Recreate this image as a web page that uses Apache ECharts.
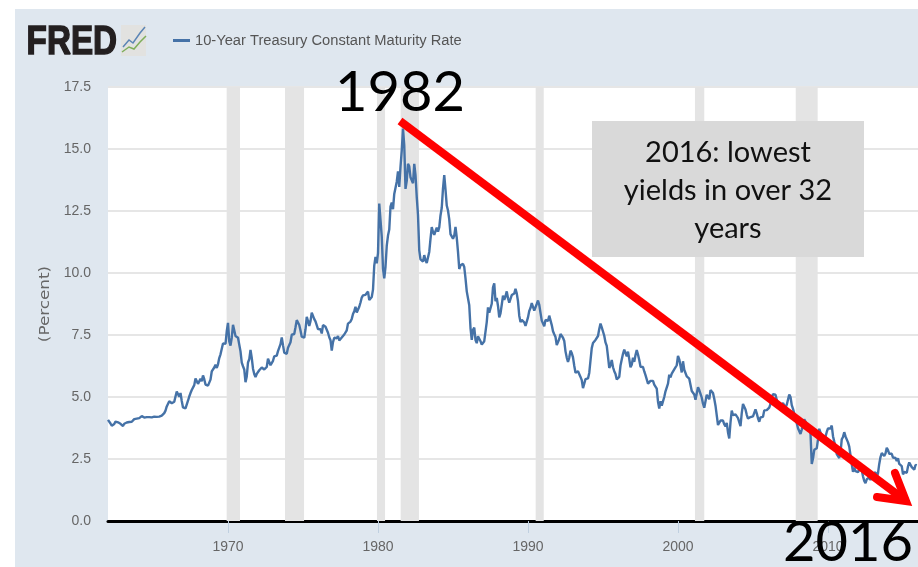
<!DOCTYPE html>
<html>
<head>
<meta charset="utf-8"/>
<title>10-Year Treasury Constant Maturity Rate</title>
<script src="https://cdn.jsdelivr.net/npm/echarts@6/dist/echarts.min.js"></script>
<style>
	body { margin: 0; background: #fff; }
	#panel { position: absolute; left: 15px; top: 9px; width: 903px; height: 558px; background: #dfe7ef; }
	#chart { position: absolute; left: 0; top: 0; width: 918px; height: 567px; }
</style>
</head>
<body>
<div id="panel"></div>
<div id="chart"></div>
<script>
	// monthly values, percent, January of the first year onward
	var startYear = 1962;
	var rate60s = [
		4.08,4.04,3.93,3.84,3.87,3.91,4.01,3.98,3.98,3.93,3.92,3.86,
		3.83,3.92,3.93,3.97,3.93,3.99,4.02,4.00,4.08,4.11,4.12,4.13,
		4.17,4.15,4.22,4.23,4.20,4.17,4.19,4.19,4.20,4.19,4.15,4.18,
		4.19,4.21,4.21,4.20,4.21,4.21,4.20,4.25,4.29,4.35,4.45,4.62,
		4.61,4.83,4.87,4.75,4.78,4.81,5.02,5.22,5.18,5.01,5.16,4.84,
		4.58,4.63,4.54,4.59,4.85,5.02,5.16,5.28,5.30,5.48,5.75,5.70,
		5.53,5.56,5.74,5.64,5.87,5.72,5.50,5.42,5.46,5.58,5.70,6.03,
		6.04,6.19,6.30,6.17,6.32,6.57,6.72,6.69,7.16,7.10,7.14,7.65
	];
	var rate70s = [
		7.99,7.24,7.07,7.39,7.91,7.84,7.46,7.53,7.39,7.33,6.84,6.39,
		6.24,6.11,5.60,5.83,6.39,6.52,6.90,6.58,6.14,5.93,5.81,5.93,
		5.95,6.08,6.07,6.19,6.13,6.11,6.11,6.21,6.55,6.48,6.28,6.36,
		6.46,6.64,6.71,6.67,6.85,6.90,7.13,7.40,7.09,6.79,6.73,6.74,
		6.99,6.96,7.21,7.51,7.58,7.54,7.81,8.10,8.04,7.90,7.68,7.43,
		7.50,7.39,7.73,8.23,8.06,7.86,8.06,8.40,8.43,8.14,8.05,8.00,
		7.74,7.79,7.73,7.56,7.90,7.86,7.83,7.77,7.59,7.41,7.29,6.87,
		7.21,7.39,7.46,7.37,7.46,7.28,7.33,7.40,7.34,7.52,7.58,7.69,
		7.96,8.03,8.04,8.15,8.35,8.46,8.64,8.41,8.42,8.64,8.81,9.01,
		9.10,9.10,9.12,9.18,9.25,8.91,8.95,9.03,9.33,10.30,10.65,10.39
	];
	var rate80s = [
		10.80,12.80,12.75,11.47,10.18,9.78,10.25,11.10,11.51,11.75,12.68,12.84,
		12.57,13.19,13.12,13.68,14.10,13.47,14.28,14.94,15.82,15.15,13.39,13.72,
		14.40,14.30,13.86,13.87,13.62,14.40,13.95,13.06,12.34,10.91,10.55,10.54,
		10.46,10.72,10.51,10.40,10.38,10.85,11.38,11.85,11.65,11.54,11.69,11.83,
		11.67,11.84,12.32,12.63,13.41,13.95,13.36,12.72,12.52,12.16,11.57,11.50,
		11.38,11.51,11.86,11.43,10.85,10.16,10.31,10.33,10.37,10.24,9.78,9.26,
		9.19,8.70,7.78,7.30,7.71,7.80,7.30,7.17,7.45,7.43,7.25,7.11,
		7.08,7.25,7.25,8.02,8.61,8.40,8.45,8.76,9.42,9.58,8.86,8.99,
		8.67,8.21,8.37,8.72,9.09,8.92,9.06,9.26,8.98,8.80,8.96,9.11,
		9.09,9.17,9.36,9.18,8.86,8.28,8.02,8.11,8.19,8.01,7.87,7.84
	];
	var rate90s = [
		8.21,8.47,8.59,8.79,8.76,8.48,8.47,8.75,8.89,8.72,8.39,8.08,
		8.09,7.85,8.11,8.04,8.07,8.28,8.27,7.90,7.65,7.53,7.42,7.09,
		7.03,7.34,7.54,7.48,7.39,7.26,6.84,6.59,6.42,6.59,6.87,6.77,
		6.60,6.26,5.98,5.97,6.04,5.96,5.81,5.68,5.36,5.33,5.72,5.77,
		5.75,5.97,6.48,6.97,7.18,7.10,7.30,7.24,7.46,7.74,7.96,7.81,
		7.78,7.47,7.20,7.06,6.63,6.17,6.28,6.49,6.20,6.04,5.93,5.71,
		5.65,5.81,6.27,6.51,6.74,6.91,6.87,6.64,6.83,6.53,6.20,6.30,
		6.58,6.42,6.69,6.89,6.71,6.49,6.22,6.30,6.21,6.03,5.88,5.81,
		5.54,5.57,5.65,5.64,5.65,5.50,5.46,5.34,4.81,4.53,4.83,4.65,
		4.72,5.00,5.23,5.18,5.54,5.90,5.79,5.94,5.92,6.11,6.03,6.28
	];
	var rate00s = [
		6.66,6.52,6.26,5.99,6.44,6.10,6.05,5.83,5.80,5.74,5.72,5.24,
		5.16,5.10,4.89,5.14,5.39,5.28,5.24,4.97,4.73,4.57,4.65,5.09,
		5.04,4.91,5.28,5.21,5.16,4.93,4.65,4.26,3.87,3.94,4.05,4.03,
		4.05,3.90,3.81,3.96,3.57,3.33,3.98,4.45,4.27,4.29,4.30,4.27,
		4.15,4.08,3.83,4.35,4.72,4.73,4.50,4.28,4.13,4.10,4.19,4.23,
		4.22,4.17,4.50,4.34,4.14,4.00,4.18,4.26,4.20,4.46,4.54,4.47,
		4.42,4.57,4.72,4.99,5.11,5.11,5.09,4.88,4.72,4.73,4.60,4.56,
		4.76,4.72,4.56,4.69,4.75,5.10,5.00,4.67,4.52,4.53,4.15,4.10,
		3.74,3.74,3.51,3.68,3.88,4.10,4.01,3.89,3.69,3.81,3.53,2.30,
		2.52,2.87,2.82,2.93,3.29,3.72,3.56,3.59,3.40,3.39,3.40,3.59
	];
	var rate10s = [
		3.73,3.69,3.73,3.85,3.42,3.20,3.01,2.70,2.65,2.54,2.76,3.29,
		3.39,3.58,3.41,3.46,3.17,3.00,3.00,2.30,1.98,2.15,2.01,1.98,
		1.97,1.97,2.17,2.05,1.80,1.62,1.53,1.68,1.72,1.75,1.65,1.72,
		1.91,1.98,1.96,1.76,1.93,2.30,2.58,2.74,2.81,2.62,2.72,2.95,
		2.86,2.71,2.72,2.71,2.56,2.60,2.54,2.42,2.53,2.30,2.33,2.21,
		1.88,1.98,2.04,1.94,2.20,2.36,2.32,2.17,2.17,2.07,2.26,2.24
	];
	// shaded recessions, start and end in decimal years
	var recessions = [[1969.91,1970.8],[1973.8,1975.07],[1979.93,1980.47],[1981.51,1982.73],[1990.51,1991.05],[2001.13,2001.75],[2007.85,2009.31]];
	var xTicks = [1970,1980,1990,2000,2010];
	var seriesName = '10-Year Treasury Constant Maturity Rate';

	var rates = rate60s.concat(rate70s, rate80s, rate90s, rate00s, rate10s);
	var lineData = [];
	for (var i = 0; i < rates.length; i++) {
		lineData.push([startYear + i / 12, rates[i]]);
	}
	var areas = [];
	for (var j = 0; j < recessions.length; j++) {
		areas.push([{xAxis: recessions[j][0]}, {xAxis: recessions[j][1]}]);
	}

	var sans = '"Liberation Sans",sans-serif';
	var myChart = echarts.init(document.getElementById('chart'), null, {renderer: 'canvas'});
	myChart.setOption({
		animation: false,
		backgroundColor: 'transparent',
		legend: {
			left: 168, top: 28,
			icon: 'rect', itemWidth: 17, itemHeight: 3, itemGap: 8,
			textStyle: {color: '#555', fontSize: 14.7, fontFamily: sans}
		},
		grid: {left: 108, right: 0, top: 87, bottom: 46, show: true, backgroundColor: '#fff', borderWidth: 0},
		xAxis: {
			type: 'value', min: 1962, max: 2016,
			splitLine: {show: false},
			axisLine: {show: true, onZero: false, lineStyle: {color: '#000', width: 3}},
			axisTick: {show: true, length: 12, customValues: xTicks, lineStyle: {color: '#c0d0e0', width: 1}},
			axisLabel: {
				customValues: xTicks, margin: 19,
				color: '#666', fontSize: 14, fontFamily: sans,
				formatter: function(v){ return String(v); }
			}
		},
		yAxis: {
			type: 'value', min: 0, max: 17.5, interval: 2.5,
			splitLine: {lineStyle: {color: '#e6e6e6', width: 2}},
			axisLine: {show: false},
			axisTick: {show: false},
			axisLabel: {
				margin: 17, color: '#666', fontSize: 14, fontFamily: sans, padding: [3, 0, 0, 0],
				formatter: function(v){ return v.toFixed(1); }
			}
		},
		series: [{
			name: seriesName,
			type: 'line',
			showSymbol: false,
			color: '#4572a7',
			lineStyle: {width: 2.4, color: '#4572a7'},
			data: lineData,
			markArea: {silent: true, itemStyle: {color: '#e4e4e4'}, data: areas}
		}],
		graphic: [
			// axis title, stretched along its length as in the source
			{type: 'text', x: 45, y: 304, rotation: Math.PI / 2, scaleX: 1.2, z: 5, style: {text: '(Percent)', fill: '#666', font: '14px "DejaVu Sans"', align: 'center', verticalAlign: 'middle'}},
			// FRED logo
			{type: 'text', left: 26, top: 22, scaleX: 0.83, z: 10, style: {text: 'FRED', fill: '#231f20', stroke: '#231f20', lineWidth: 1.5, font: 'bold 40px "Liberation Sans"'}},
			{type: 'rect', z: 10, shape: {x: 121, y: 25, width: 25, height: 31}, style: {fill: '#e2e2e0'}},
			{type: 'polyline', z: 11, shape: {points: [[123,47],[129,40],[133,43],[140,33],[145,27]]}, style: {stroke: '#5b85b5', lineWidth: 1.5, fill: 'none'}},
			{type: 'polyline', z: 11, shape: {points: [[122,52],[129,47],[134,49],[140,42],[146,36]]}, style: {stroke: '#7fae5a', lineWidth: 1.5, fill: 'none'}},
			// annotation layer
			{type: 'rect', z: 20, shape: {x: 592, y: 121, width: 272, height: 136}, style: {fill: '#d9d9d9'}},
			{type: 'text', z: 21, x: 728, y: 191, style: {text: '2016: lowest\nyields in over 32\nyears', fill: '#111', font: '29px Lato', lineHeight: 38, align: 'center', verticalAlign: 'middle'}},
			{type: 'polyline', z: 22, shape: {points: [[400,121],[906,501]]}, style: {stroke: '#ff0000', lineWidth: 8, fill: 'none'}},
			{type: 'polyline', z: 22, shape: {points: [[895,473],[906,501],[877,497]]}, style: {stroke: '#ff0000', lineWidth: 8, lineCap: 'round', lineJoin: 'miter', miterLimit: 10, fill: 'none'}},
			{type: 'text', z: 23, x: 400, y: 93, style: {text: '1982', fill: '#000', font: '56px Lato', align: 'center', verticalAlign: 'middle'}},
			{type: 'text', z: 23, x: 848, y: 543, style: {text: '2016', fill: '#000', font: '56px Lato', align: 'center', verticalAlign: 'middle'}}
		]
	});
</script>
</body>
</html>
